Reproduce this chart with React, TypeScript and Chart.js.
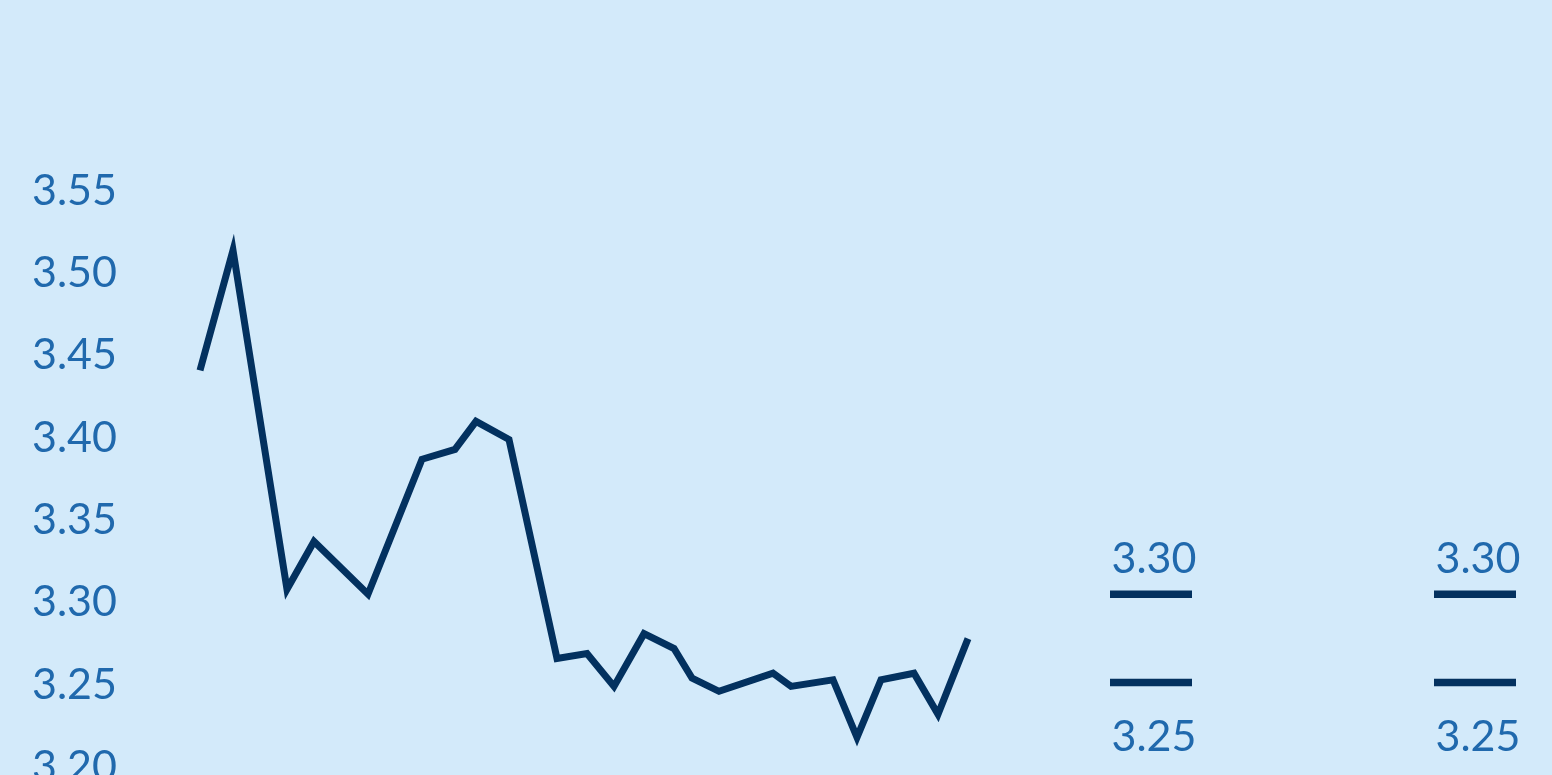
import React, { useEffect, useRef } from "react";
import { Chart, registerables } from "chart.js";

Chart.register(...registerables);

// Observation dates (days from first observation) and values
const obsDays = [0, 11, 29, 38, 56, 74, 85, 92, 103, 119, 129, 138, 148, 158, 164, 173, 191, 197, 211, 219, 227, 238, 246, 256];
const obsValues = [3.441, 3.514, 3.308, 3.337, 3.305, 3.387, 3.393, 3.41, 3.399, 3.266, 3.269, 3.249, 3.281, 3.272, 3.254, 3.246, 3.257, 3.249, 3.253, 3.218, 3.253, 3.257, 3.232, 3.278];

// Range markers on the right
const markerDays = [317, 425];
const markerHigh = [3.3049, 3.3049];
const markerLow = [3.2514, 3.2514];

// Axis ticks
const yTicks = [3.2, 3.25, 3.3, 3.35, 3.4, 3.45, 3.5, 3.55];

const BG = "#d3eafa";
const LINE = "#03315f";
const TEXT = "#2069ad";
const FONT = "Lato";

const markerLabels = {
  id: "markerLabels",
  afterDatasetsDraw(chart: any) {
    const ctx = chart.ctx;
    ctx.save();
    ctx.fillStyle = TEXT;
    ctx.font = `400 43px ${FONT}`;
    ctx.textAlign = "center";
    ctx.textBaseline = "middle";
    chart.data.datasets.forEach((ds: any, i: number) => {
      if (!ds.markerKind) return;
      const meta = chart.getDatasetMeta(i);
      meta.data.forEach((el: any, j: number) => {
        const v = ds.data[j].y as number;
        const label = v.toFixed(2);
        const y = ds.markerKind === "high" ? el.y - 35 : el.y + 55;
        ctx.fillText(label, el.x + 3, y);
      });
    });
    ctx.restore();
  },
};

export default function App() {
  const ref = useRef<HTMLCanvasElement | null>(null);

  useEffect(() => {
    if (!ref.current) return;
    const chart = new Chart(ref.current, {
      type: "scatter",
      data: {
        datasets: [
          {
            type: "line",
            data: obsDays.map((d, i) => ({ x: d, y: obsValues[i] })),
            borderColor: LINE,
            borderWidth: 7,
            pointRadius: 0,
            tension: 0,
            fill: false,
          } as any,
          {
            markerKind: "high",
            data: markerDays.map((d, i) => ({ x: d, y: markerHigh[i] })),
            pointStyle: "line",
            pointRadius: 41,
            pointBorderWidth: 7.5,
            borderColor: LINE,
            backgroundColor: LINE,
            showLine: false,
          } as any,
          {
            markerKind: "low",
            data: markerDays.map((d, i) => ({ x: d, y: markerLow[i] })),
            pointStyle: "line",
            pointRadius: 41,
            pointBorderWidth: 7.5,
            borderColor: LINE,
            backgroundColor: LINE,
            showLine: false,
          } as any,
        ],
      },
      options: {
        animation: false,
        responsive: true,
        maintainAspectRatio: false,
        events: [],
        layout: { autoPadding: false, padding: { left: 32, top: 191, bottom: 33, right: 0 } },
        plugins: { legend: { display: false }, tooltip: { enabled: false } },
        scales: {
          x: {
            type: "linear",
            display: false,
            min: -68 / 3,
            max: 1352 / 3,
          },
          y: {
            type: "linear",
            min: 3.2,
            max: 3.55,
            grid: { display: false },
            border: { display: false },
            afterFit: (s: any) => {
              s.width = 100;
            },
            afterBuildTicks: (s: any) => {
              s.ticks = yTicks.map((v) => ({ value: v }));
            },
            ticks: {
              crossAlign: "far",
              padding: 0,
              color: TEXT,
              font: { family: FONT, size: 43, weight: "400" as any },
              callback: (v: any) => Number(v).toFixed(2),
            },
          },
        },
      },
      plugins: [markerLabels],
    });
    let alive = true;
    if ((document as any).fonts && (document as any).fonts.load) {
      (document as any).fonts.load(`400 43px ${FONT}`).then(() => {
        if (alive) chart.update();
      });
    }
    return () => {
      alive = false;
      chart.destroy();
    };
  }, []);

  return (
    <div
      style={{
        position: "fixed",
        left: 0,
        top: 0,
        width: 1552,
        height: 775,
        overflow: "hidden",
        background: BG,
      }}
    >
      <div style={{ position: "relative", width: 1552, height: 800 }}>
        <canvas ref={ref} />
      </div>
    </div>
  );
}
